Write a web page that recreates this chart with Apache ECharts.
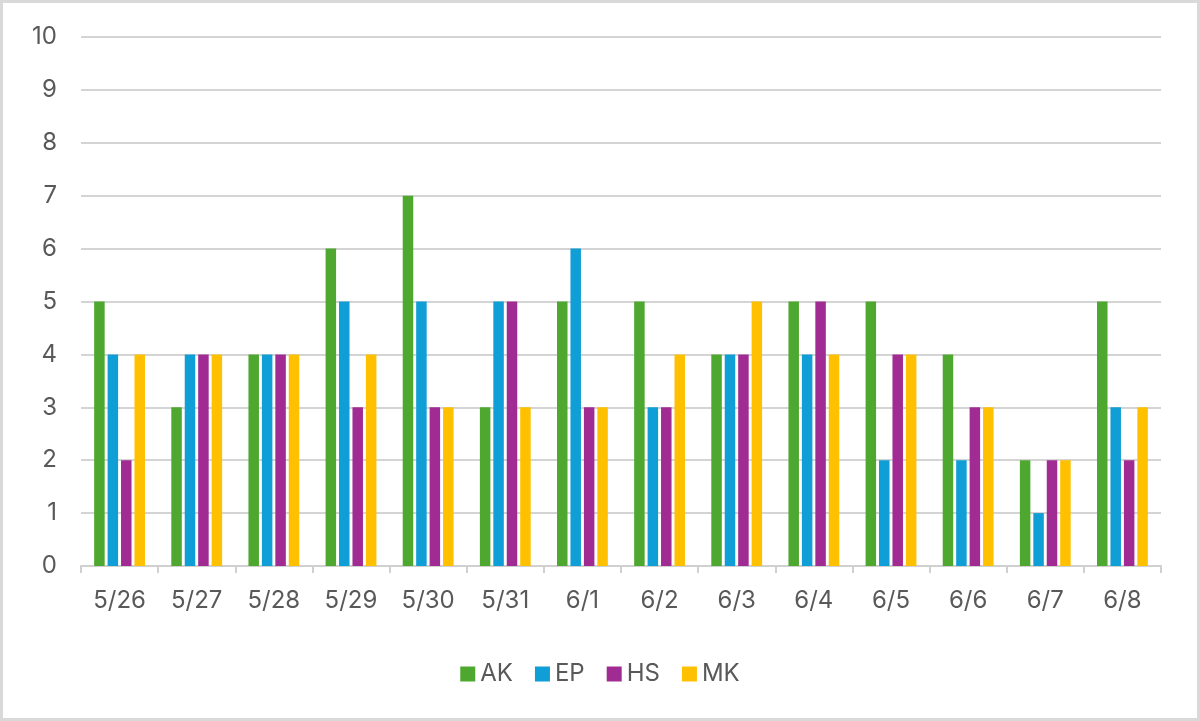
<!DOCTYPE html>
<html>
<head>
<meta charset="utf-8">
<script src="https://cdn.jsdelivr.net/npm/echarts@6/dist/echarts.min.js"></script>
<style>
  html, body { margin: 0; padding: 0; background: #fff; }
  #chart { width: 1200px; height: 721px; box-sizing: border-box; border: 3px solid #d9d9d9; }
</style>
</head>
<body>
<div id="chart"></div>
<script>
const days = ['5/26', '5/27', '5/28', '5/29', '5/30', '5/31', '6/1', '6/2', '6/3', '6/4', '6/5', '6/6', '6/7', '6/8'];
const AK = [5, 3, 4, 6, 7, 3, 5, 5, 4, 5, 5, 4, 2, 5];
const EP = [4, 4, 4, 5, 5, 5, 6, 3, 4, 4, 2, 2, 1, 3];
const HS = [2, 4, 4, 3, 3, 5, 3, 3, 4, 5, 4, 3, 2, 2];
const MK = [4, 4, 4, 4, 3, 3, 3, 4, 5, 4, 4, 3, 2, 3];
const names = ['AK', 'EP', 'HS', 'MK'];
const colors = ['#4ea72e', '#0f9ed5', '#a02b93', '#ffc000'];

let myChart = echarts.init(document.getElementById('chart'));
const font = 'Inter, "Open Sans", sans-serif';

myChart.setOption({
  animation: false,
  color: colors,
  textStyle: { fontFamily: font },
  grid: { left: 78, right: 36, top: 34, bottom: 152 },
  legend: {
    top: 654,
    left: 'center',
    itemWidth: 15,
    itemHeight: 15,
    itemGap: 22,
    icon: 'rect',
    textStyle: { fontSize: 24, color: '#595959', fontFamily: font },
    data: names
  },
  xAxis: {
    type: 'category',
    data: days,
    axisLine: { lineStyle: { color: '#d0d0d0', width: 2 } },
    axisTick: { show: true, length: 7, lineStyle: { color: '#d0d0d0', width: 2 } },
    axisLabel: { fontSize: 24, color: '#595959', margin: 23, fontFamily: font }
  },
  yAxis: {
    type: 'value',
    min: 0,
    max: 10,
    interval: 1,
    axisLine: { show: false },
    axisTick: { show: false },
    splitLine: { lineStyle: { color: '#d4d4d4', width: 2 } },
    axisLabel: { fontSize: 24, color: '#595959', margin: 24, fontFamily: font }
  },
  series: [
    { name: 'AK', type: 'bar', data: AK, barWidth: 10.5, barGap: '28%' },
    { name: 'EP', type: 'bar', data: EP, barWidth: 10.5, barGap: '28%' },
    { name: 'HS', type: 'bar', data: HS, barWidth: 10.5, barGap: '28%' },
    { name: 'MK', type: 'bar', data: MK, barWidth: 10.5, barGap: '28%' }
  ]
});
</script>
</body>
</html>
